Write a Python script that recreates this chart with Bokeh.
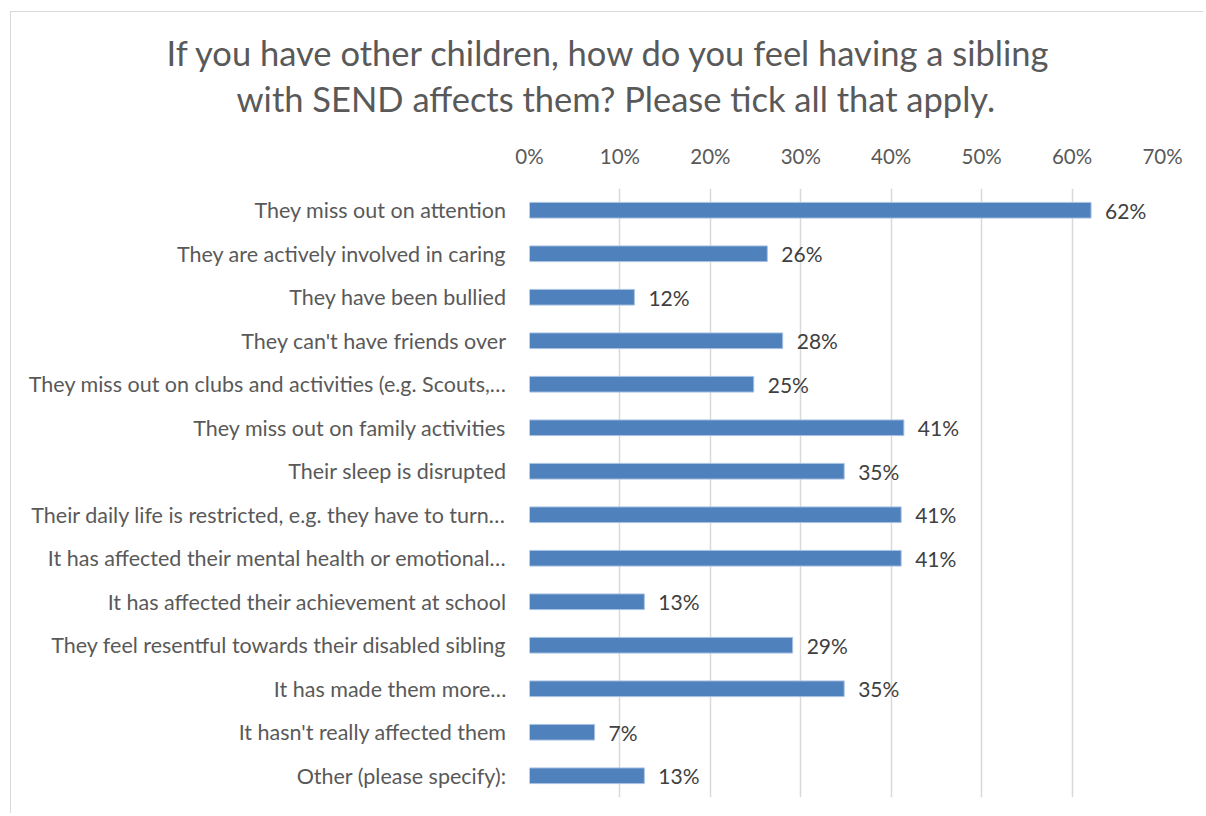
from bokeh.plotting import figure
from bokeh.models import Range1d, FixedTicker, ColumnDataSource, Title
from bokeh.core.properties import value
from bokeh.embed import file_html
from bokeh.resources import INLINE

categories = [
    "They miss out on attention",
    "They are actively involved in caring",
    "They have been bullied",
    "They can't have friends over",
    "They miss out on clubs and activities (e.g. Scouts,\u2026",
    "They miss out on family activities",
    "Their sleep is disrupted",
    "Their daily life is restricted, e.g. they have to turn\u2026",
    "It has affected their mental health or emotional\u2026",
    "It has affected their achievement at school",
    "They feel resentful towards their disabled sibling",
    "It has made them more\u2026",
    "It hasn't really affected them",
    "Other (please specify):",
]
values = [62.1, 26.3, 11.6, 28.0, 24.8, 41.4, 34.8, 41.1, 41.1, 12.7, 29.1, 34.8, 7.2, 12.7]
x_ticks = [0, 10, 20, 30, 40, 50, 60, 70]
title_lines = [
    "If you have other children, how do you feel having a sibling",
    "with SEND affects them? Please tick all that apply.",
]

FONT = "Lato"
n = len(categories)
pos = list(range(n))
labels = [f"{round(v)}%" for v in values]
src = ColumnDataSource(dict(y=pos, x=values, lab=labels))

p = figure(
    width=1193, height=802,
    x_range=Range1d(0, 70), y_range=Range1d(n - 0.5, -0.5),
    x_axis_location="above", title_location=None,
    output_backend="svg", toolbar_location=None,
    min_border_left=518, min_border_right=42, min_border_top=176, min_border_bottom=17,
    margin=(11, 0, 0, 10),
    styles={"border-left": "1px solid #d9d9d9", "border-top": "1px solid #d9d9d9"},
)
p.outline_line_color = None
p.background_fill_color = "white"
p.border_fill_color = "white"

p.hbar(y="y", right="x", left=0, height=0.36, source=src,
       fill_color="#4F81BD", line_color="#A9C2E2", line_width=1)
p.text(x="x", y="y", text="lab", source=src, x_offset=14,
       text_align="left", text_baseline="middle",
       text_font=value(FONT), text_font_size="21px", text_color="#404040")

# grid
p.ygrid.grid_line_color = None
p.xgrid.grid_line_color = "#d9d9d9"
p.xgrid.grid_line_width = 1.5
p.xgrid.ticker = FixedTicker(ticks=x_ticks)

xa = p.xaxis[0]
xa.ticker = FixedTicker(ticks=x_ticks)
xa.major_label_overrides = {t: f"{t}%" for t in x_ticks}
xa.axis_line_color = None
xa.major_tick_line_color = None
xa.minor_tick_line_color = None
xa.major_tick_out = 0
xa.major_tick_in = 0
xa.major_label_standoff = 21
xa.major_label_text_font = FONT
xa.major_label_text_font_size = "20.5px"
xa.major_label_text_color = "#595959"

ya = p.yaxis[0]
ya.ticker = FixedTicker(ticks=pos)
ya.major_label_overrides = {i: c for i, c in enumerate(categories)}
ya.axis_line_color = None
ya.major_tick_line_color = None
ya.minor_tick_line_color = None
ya.major_tick_out = 0
ya.major_tick_in = 0
ya.major_label_standoff = 23
ya.major_label_text_font = FONT
ya.major_label_text_font_size = "21.5px"
ya.major_label_text_color = "#595959"

# two-line title, second line closest to the plot; left-aligned with offsets so
# that each line is centred where the reference centres it
for line, sto, off in [(title_lines[1], 44, 236 - 529), (title_lines[0], -38, 166 - 529)]:
    p.add_layout(Title(text=line, align="left", offset=off, standoff=sto,
                       text_font=FONT, text_font_size="34.5px", text_font_style="normal",
                       text_line_height=0.9, text_color="#595959"), "above")

open("out.html", "w").write(file_html(p, INLINE))
